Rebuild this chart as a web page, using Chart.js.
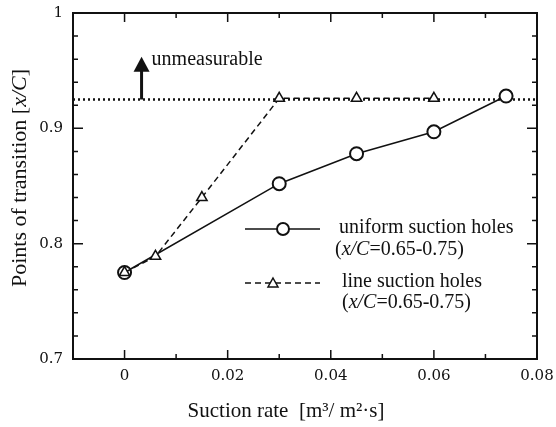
<!DOCTYPE html>
<html>
<head>
<meta charset="utf-8">
<script src="https://cdn.jsdelivr.net/npm/chart.js@4"></script>
<style>
  html, body { margin: 0; padding: 0; background: #fff; }
  #wrap { width: 556px; height: 427px; }
</style>
</head>
<body>
<div id="wrap"><canvas id="chart" width="556" height="427"></canvas></div>
<script>
// data
const uniformX = [0, 0.03, 0.045, 0.06, 0.074];
const uniformY = [0.775, 0.852, 0.878, 0.897, 0.928];
const lineX = [0, 0.006, 0.015, 0.03, 0.045, 0.06];
const lineY = [0.775, 0.789, 0.84, 0.926, 0.926, 0.926];
const limitY = 0.925;           // "unmeasurable" level
const limitX = [-0.01, 0.08];
const arrowX = 0.0033;
const arrowTopY = 0.962;

const SERIF = '"Liberation Serif", "DejaVu Serif", serif';
const TICK_FONT = '"DejaVu Serif", serif';

function toPoints(xs, ys) {
    return xs.map((x, i) => ({ x: x, y: ys[i] }));
}

// draw text made of normal / italic parts
function drawParts(ctx, parts, x, y, size, align) {
    let total = 0;
    parts.forEach(p => {
        ctx.font = (p.i ? 'italic ' : '') + size + 'px ' + SERIF;
        total += ctx.measureText(p.t).width;
    });
    let cx = align === 'center' ? x - total / 2 : x;
    ctx.textAlign = 'left';
    ctx.textBaseline = 'middle';
    parts.forEach(p => {
        ctx.font = (p.i ? 'italic ' : '') + size + 'px ' + SERIF;
        ctx.fillText(p.t, cx, y);
        cx += ctx.measureText(p.t).width;
    });
}

const decorations = {
    id: 'decorations',
    afterDatasetsDraw(chart) {
        const ctx = chart.ctx;
        const area = chart.chartArea;
        const xs = chart.scales.x;
        const ys = chart.scales.y;
        ctx.save();
        ctx.strokeStyle = '#111';
        ctx.fillStyle = '#111';

        // frame
        ctx.lineWidth = 2;
        ctx.strokeRect(area.left, area.top, area.right - area.left, area.bottom - area.top);

        // inward ticks
        ctx.lineWidth = 1.5;
        xs.ticks.forEach(t => {
            const px = xs.getPixelForValue(t.value);
            const len = t.label ? 9 : 5;
            ctx.beginPath();
            ctx.moveTo(px, area.bottom); ctx.lineTo(px, area.bottom - len);
            ctx.moveTo(px, area.top); ctx.lineTo(px, area.top + len);
            ctx.stroke();
        });
        ys.ticks.forEach(t => {
            const py = ys.getPixelForValue(t.value);
            const len = t.label ? 10 : 5;
            ctx.beginPath();
            ctx.moveTo(area.left, py); ctx.lineTo(area.left + len, py);
            ctx.moveTo(area.right, py); ctx.lineTo(area.right - len, py);
            ctx.stroke();
        });

        // arrow "unmeasurable"
        const ax = xs.getPixelForValue(arrowX);
        const ay0 = ys.getPixelForValue(limitY);
        const ay1 = ys.getPixelForValue(arrowTopY);
        ctx.lineWidth = 3;
        ctx.beginPath();
        ctx.moveTo(ax, ay0); ctx.lineTo(ax, ay1 + 10);
        ctx.stroke();
        ctx.beginPath();
        ctx.moveTo(ax, ay1); ctx.lineTo(ax - 8, ay1 + 15); ctx.lineTo(ax + 8, ay1 + 15);
        ctx.closePath();
        ctx.fill();
        drawParts(ctx, [{ t: 'unmeasurable' }], ax + 10, ay1 + 3, 20, 'left');

        // legend
        const lx0 = 245, lx1 = 320;
        ctx.lineWidth = 1.5;
        ctx.setLineDash([]);
        ctx.beginPath();
        ctx.moveTo(lx0, 229); ctx.lineTo(lx1, 229);
        ctx.stroke();
        ctx.fillStyle = '#fff';
        ctx.lineWidth = 2;
        ctx.beginPath();
        ctx.arc(283, 229, 6, 0, Math.PI * 2);
        ctx.fill(); ctx.stroke();
        ctx.lineWidth = 1.5;
        ctx.setLineDash([6, 4]);
        ctx.beginPath();
        ctx.moveTo(lx0, 283); ctx.lineTo(lx1, 283);
        ctx.stroke();
        ctx.setLineDash([]);
        ctx.beginPath();
        ctx.moveTo(273, 278); ctx.lineTo(278, 287); ctx.lineTo(268, 287);
        ctx.closePath();
        ctx.fill(); ctx.stroke();
        ctx.fillStyle = '#111';
        drawParts(ctx, [{ t: 'uniform suction holes' }], 339, 228, 20, 'left');
        drawParts(ctx, [{ t: '(' }, { t: 'x/C', i: true }, { t: '=0.65-0.75)' }], 335, 250, 20, 'left');
        drawParts(ctx, [{ t: 'line suction holes' }], 342, 282, 20, 'left');
        drawParts(ctx, [{ t: '(' }, { t: 'x/C', i: true }, { t: '=0.65-0.75)' }], 342, 303, 20, 'left');

        // axis titles
        drawParts(ctx, [{ t: 'Suction rate  [m³/ m²·s]' }], 286, 411, 21, 'center');
        ctx.translate(20, 178);
        ctx.rotate(-Math.PI / 2);
        drawParts(ctx, [{ t: 'Points of transition [' }, { t: 'x/C', i: true }, { t: ']' }], 0, 0, 22, 'center');
        ctx.restore();
    }
};

new Chart(document.getElementById('chart').getContext('2d'), {
    type: 'scatter',
    data: {
        datasets: [
            {
                label: 'line suction holes',
                data: toPoints(lineX, lineY),
                showLine: true,
                borderColor: '#111',
                borderWidth: 1.5,
                borderDash: [6, 4],
                pointStyle: 'triangle',
                pointRadius: 6,
                pointBorderWidth: 1.5,
                pointBackgroundColor: '#fff',
                pointBorderColor: '#111',
                order: 0
            },
            {
                label: 'uniform suction holes',
                data: toPoints(uniformX, uniformY),
                showLine: true,
                borderColor: '#111',
                borderWidth: 1.5,
                pointStyle: 'circle',
                pointRadius: 6.5,
                pointBorderWidth: 2,
                pointBackgroundColor: '#fff',
                pointBorderColor: '#111',
                order: 1
            },
            {
                label: 'limit',
                data: toPoints(limitX, [limitY, limitY]),
                showLine: true,
                borderColor: '#111',
                borderWidth: 2.5,
                borderDash: [2, 3],
                pointRadius: 0,
                order: 2
            }
        ]
    },
    options: {
        responsive: false,
        animation: false,
        layout: { padding: { left: 0, top: 13, right: 19, bottom: 0 } },
        plugins: {
            legend: { display: false },
            tooltip: { enabled: false }
        },
        scales: {
            x: {
                type: 'linear',
                min: -0.01,
                max: 0.08,
                afterFit: s => {
                    s.height = 68;
                    s.paddingLeft = 0;
                    s.paddingRight = 0;
                },
                grid: { display: false, drawTicks: false },
                border: { display: false },
                ticks: {
                    stepSize: 0.01,
                    autoSkip: false,
                    maxRotation: 0,
                    padding: 8,
                    color: '#111',
                    font: { family: TICK_FONT, size: 15 },
                    callback: v => {
                        const n = Math.round(v * 100);
                        if (n < 0 || n % 2 !== 0) return '';
                        return n === 0 ? '0' : (n / 100).toFixed(2);
                    }
                }
            },
            y: {
                type: 'linear',
                min: 0.7,
                max: 1.0,
                afterFit: s => {
                    s.width = 73;
                    s.paddingTop = 0;
                    s.paddingBottom = 0;
                },
                grid: { display: false, drawTicks: false },
                border: { display: false },
                ticks: {
                    stepSize: 0.02,
                    autoSkip: false,
                    padding: 10,
                    color: '#111',
                    font: { family: TICK_FONT, size: 15 },
                    callback: v => {
                        const n = Math.round(v * 100);
                        if (n % 10 !== 0) return '';
                        return n === 100 ? '1' : (n / 100).toFixed(1);
                    }
                }
            }
        }
    },
    plugins: [decorations]
});
</script>
</body>
</html>
